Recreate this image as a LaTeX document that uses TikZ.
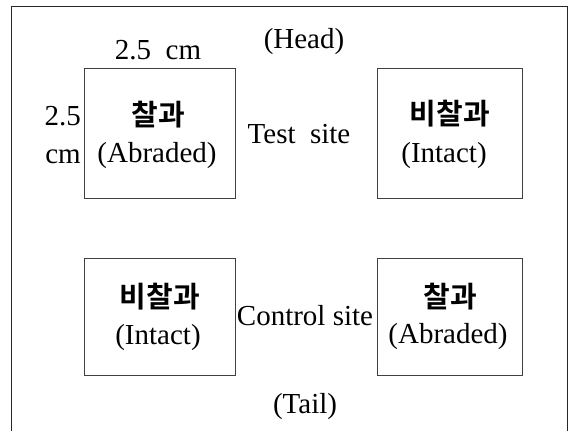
\documentclass[tikz,border=0pt]{standalone}
\usepackage{fontspec}
\setmainfont{Liberation Serif}
\newfontfamily\kofont{Noto Sans CJK KR Bold}
\begin{document}
\begin{tikzpicture}[x=1pt,y=-1pt,
  site/.style={draw=black!75,line width=0.8pt,rectangle,inner sep=0pt},
  lat/.style={inner sep=0pt,anchor=base,font=\fontsize{29}{32}\selectfont},
  kor/.style={inner sep=0pt,anchor=center,font=\kofont\fontsize{29}{32}\selectfont}]
\useasboundingbox (0,0) rectangle (577,431);
% frame (open at the bottom)
\draw[line width=1pt,black!85] (11,431) -- (11,6) -- (567,6) -- (567,431);
% boxes
\node[site,minimum width=151pt,minimum height=130pt] (b1) at (159.5,133) {};
\node[site,minimum width=145pt,minimum height=130pt] (b2) at (449.5,133) {};
\node[site,minimum width=151pt,minimum height=117pt] (b3) at (159.5,316.5) {};
\node[site,minimum width=145pt,minimum height=117pt] (b4) at (449.5,316.5) {};
% labels
\node[lat] (head) at (304,48) {(Head)};
\node[lat] (dimw) at (158,59) {2.5\ \ cm};
\node[lat,anchor=base east] (dimh1) at (81,125) {2.5};
\node[lat,anchor=base east] (dimh2) at (81,163) {cm};
\node[kor] (k1) at (158,115) {찰과};
\node[lat] (e1) at (157,162) {(Abraded)};
\node[lat] (test) at (299,143) {Test\ \ site};
\node[kor] (k2) at (450,114) {비찰과};
\node[lat] (e2) at (444,162) {(Intact)};
\node[kor] (k3) at (160,297) {비찰과};
\node[lat] (e3) at (158,344) {(Intact)};
\node[lat] (ctrl) at (305,325) {Control site};
\node[kor] (k4) at (450,297) {찰과};
\node[lat] (e4) at (448,343) {(Abraded)};
\node[lat] (tail) at (305,413) {(Tail)};
\end{tikzpicture}
\end{document}
